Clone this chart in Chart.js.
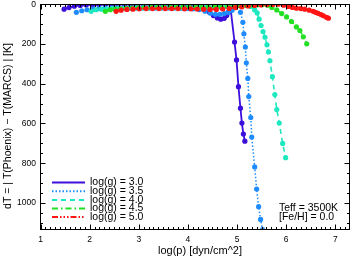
<!DOCTYPE html>
<html><head><meta charset="utf-8">
<script src="https://cdn.jsdelivr.net/npm/chart.js@4/dist/chart.umd.min.js"></script>
<style>html,body{margin:0;padding:0;background:#fff;overflow:hidden}canvas{display:block}</style>
</head><body><canvas id="c" width="353" height="258"></canvas>
<script>
// ---- data ----
const xTickLabels = [1, 2, 3, 4, 5, 6, 7];
const yTickLabels = [0, 200, 400, 600, 800, 1000];
const seriesNames = ['log(g) = 3.0', 'log(g) = 3.5', 'log(g) = 4.0', 'log(g) = 4.5', 'log(g) = 5.0'];
const annotationLines = ['Teff = 3500K', '[Fe/H] = 0.0'];
const xTitle = 'log(p) [dyn/cm^2]';
const yTitle = 'dT = | T(Phoenix) \u2212 T(MARCS) | [K]';

const logp30 = [1.48,1.58,1.69,1.81,1.93,2.06,2.19,2.32,2.45,2.58,2.71,2.84,2.97,3.10,3.23,3.36,3.49,3.62,3.75,3.88,4.01,4.13,4.25,4.35,4.44,4.52,4.60,4.67,4.74,4.79,4.83,4.86,4.95,4.99,5.03,5.07,5.10,5.13,5.16];
const dT30   = [26,18,11,7,5,4,4,3,3,3,3,3,3,3,3,3,3,4,4,4,5,6,8,20,42,58,70,76,72,58,40,3,191,281,415,523,598,653,689];

const logp35 = [1.73,1.84,1.95,2.07,2.19,2.31,2.43,2.56,2.69,2.82,2.95,3.08,3.21,3.34,3.47,3.60,3.73,3.86,3.99,4.11,4.23,4.35,4.46,4.56,4.65,4.74,4.82,4.90,4.97,5.03,5.07,5.12,5.14,5.17,5.19,5.22,5.24,5.28,5.30,5.36,5.40,5.44,5.48,5.52];
const dT35   = [42,34,29,26,23,22,21,21,20,20,20,20,20,20,20,20,20,21,22,24,28,36,46,52,52,48,42,32,15,3,42,92,150,216,295,374,465,570,668,818,929,1018,1082,1133];

const logp40 = [2.03,2.13,2.24,2.35,2.47,2.59,2.71,2.83,2.96,3.09,3.22,3.35,3.48,3.61,3.74,3.87,4.00,4.13,4.26,4.39,4.52,4.65,4.78,4.90,5.01,5.11,5.20,5.28,5.36,5.41,5.45,5.49,5.53,5.57,5.61,5.64,5.67,5.72,5.77,5.81,5.86,5.93,5.99];
const dT40   = [37,29,26,24,22,21,20,20,19,19,19,19,18,18,18,18,18,18,17,16,15,14,12,10,8,6,6,12,30,45,76,108,138,167,205,241,285,365,455,530,598,700,772];

const logp45 = [2.32,2.42,2.52,2.63,2.75,2.87,2.99,3.12,3.25,3.38,3.51,3.64,3.77,3.90,4.03,4.16,4.29,4.42,4.55,4.68,4.81,4.94,5.07,5.19,5.31,5.42,5.52,5.62,5.71,5.81,5.91,6.01,6.11,6.21,6.28,6.35,6.42];
const dT45   = [37,29,26,24,22,20,19,18,17,17,16,16,15,15,15,15,15,15,15,14,13,12,10,8,6,4,3,6,17,30,48,65,88,115,133,165,200];

const logp50 = [2.54,2.64,2.76,2.88,3.01,3.15,3.28,3.41,3.54,3.67,3.80,3.93,4.06,4.19,4.32,4.45,4.58,4.71,4.84,4.97,5.10,5.23,5.36,5.49,5.61,5.73,5.84,5.95,6.05,6.13,6.21,6.30,6.38,6.47,6.55,6.60,6.65,6.71,6.76,6.82,6.86];
const dT50   = [37,31,27,26,24,23,23,23,23,23,23,24,24,25,26,27,27,25,22,18,14,10,7,5,3,2,1,6,12,17,21,23,26,31,37,42,47,53,59,67,71];

// ---- styles ----
const colors = ['#3c0fdc', '#1e8cff', '#1ee8c0', '#22e022', '#ff1414'];
const dashes = [[], [1.5, 2], [5, 4], [6, 3, 1.5, 3], [6, 2, 1.5, 2, 1.5, 2, 1.5, 2]];
const widths = [1.8, 1.5, 1.6, 1.6, 1.6];
const xs = [logp30, logp35, logp40, logp45, logp50];
const ys = [dT30, dT35, dT40, dT45, dT50];

const datasets = seriesNames.map((name, k) => ({
  label: name,
  data: xs[k].map((x, i) => ({x: x, y: ys[k][i]})),
  borderColor: colors[k],
  backgroundColor: colors[k],
  pointBackgroundColor: colors[k],
  pointBorderWidth: 0,
  pointRadius: 2.6,
  borderWidth: widths[k],
  borderDash: dashes[k],
  tension: 0,
  order: 5 - k,
  clip: 0
}));

const frame = {
  id: 'frame',
  afterDatasetsDraw(chart) {
    const ctx = chart.ctx;
    const xS = chart.scales.x, yS = chart.scales.y;
    const a = chart.chartArea;
    const L = Math.floor(a.left) + 0.5, R = Math.floor(a.right) + 0.5;
    const T = Math.floor(a.top) + 0.5, B = Math.floor(a.bottom) + 0.5;
    ctx.save();
    ctx.strokeStyle = '#000';
    ctx.lineWidth = 1;
    ctx.setLineDash([]);
    ctx.strokeRect(L, T, R - L, B - T);
    ctx.beginPath();
    for (let i = 10; i <= 72; i++) {
      const px = Math.round(xS.getPixelForValue(i / 10)) + 0.5;
      const len = (i % 10 === 0) ? 5 : 2.5;
      ctx.moveTo(px, B); ctx.lineTo(px, B - len);
      ctx.moveTo(px, T); ctx.lineTo(px, T + len);
    }
    for (let v = 0; v <= yS.max; v += 50) {
      const py = Math.round(yS.getPixelForValue(v)) + 0.5;
      const len = (v % 200 === 0) ? 5 : 2.5;
      ctx.moveTo(L, py); ctx.lineTo(L + len, py);
      ctx.moveTo(R, py); ctx.lineTo(R - len, py);
    }
    ctx.stroke();

    ctx.fillStyle = '#000';
    ctx.font = '8.5px "Liberation Sans", Arial, sans-serif';
    ctx.textAlign = 'center';
    ctx.textBaseline = 'middle';
    xTickLabels.forEach(v => ctx.fillText(String(v), xS.getPixelForValue(v), 240));
    ctx.textAlign = 'right';
    yTickLabels.forEach(v => ctx.fillText(String(v), 36, Math.max(yS.getPixelForValue(v), 4.5)));

    ctx.font = '11px "Liberation Sans", Arial, sans-serif';
    ctx.textAlign = 'center';
    ctx.fillText(xTitle, 200, 251);
    ctx.font = '10.5px "Liberation Sans", Arial, sans-serif';
    ctx.save();
    ctx.translate(8, 126);
    ctx.rotate(-Math.PI / 2);
    ctx.fillText(yTitle, 0, 0);
    ctx.restore();

    // legend
    const rows = [182.5, 191.2, 199.9, 208.4, 216.9];
    seriesNames.forEach((name, k) => {
      ctx.strokeStyle = colors[k];
      ctx.lineWidth = 2;
      ctx.setLineDash(dashes[k]);
      ctx.beginPath();
      ctx.moveTo(52, rows[k]); ctx.lineTo(85, rows[k]);
      ctx.stroke();
      ctx.setLineDash([]);
      ctx.fillStyle = '#000';
      ctx.textAlign = 'left';
      ctx.fillText(name, 90, rows[k]);
    });
    ctx.textAlign = 'left';
    ctx.fillText(annotationLines[0], 279, 208.5);
    ctx.fillText(annotationLines[1], 279, 217.5);
    ctx.restore();
  }
};

new Chart(document.getElementById('c'), {
  type: 'line',
  data: {datasets: datasets},
  options: {
    responsive: false,
    animation: false,
    devicePixelRatio: 1,
    layout: {padding: {left: 40.5, right: 2, top: 1.5, bottom: 29}},
    plugins: {legend: {display: false}, tooltip: {enabled: false}},
    scales: {
      x: {type: 'linear', min: 1, max: 7.28, display: false},
      y: {type: 'linear', min: 0, max: 1130, reverse: true, display: false}
    }
  },
  plugins: [frame]
});
</script>
</body></html>
